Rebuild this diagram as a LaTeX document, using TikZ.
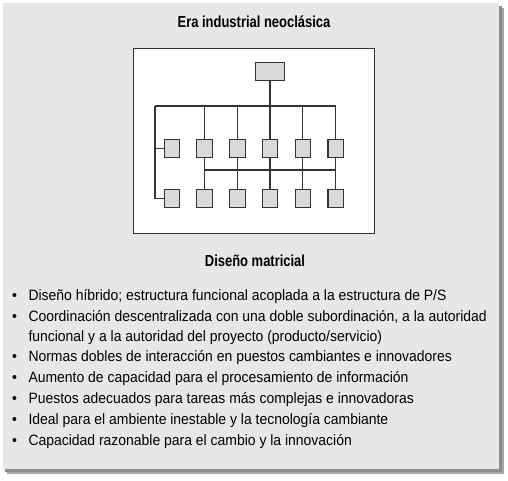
\documentclass[tikz,border=0pt]{standalone}
\usepackage{fontspec}
\setmainfont{Liberation Sans}[FakeStretch=0.93]
\newfontfamily\headfont{Liberation Sans}[FakeStretch=0.81]
\usepackage{tikz}

\definecolor{panelgray}{HTML}{E7E7E7}
\definecolor{boxgray}{HTML}{D9D9D9}
\definecolor{linegray}{HTML}{333333}

\begin{document}
\begin{tikzpicture}[x=1pt,y=-1pt,
  every node/.style={inner sep=0pt, outer sep=0pt},
  unit/.style={draw=linegray, fill=boxgray, line width=1.1pt, minimum width=15.5pt, minimum height=18pt},
  link/.style={draw=linegray, line width=1.1pt},
  heading/.style={anchor=base, font=\headfont\fontsize{16}{18}\selectfont\bfseries},
  itemtext/.style={anchor=base west, font=\fontsize{15}{17}\selectfont},
  dot/.style={anchor=base, font=\fontsize{15}{17}\selectfont}]
\useasboundingbox (0,0) rectangle (508,480);

% panel and its shadow
\fill[black!35] (7,8) rectangle (504,474);
\fill[black!45] (5,6) rectangle (502,472);
\fill[panelgray] (3,3) rectangle (499,469);

\node[heading] (title) at (254,27.5) {Era industrial neoclásica};

% organigrama
\draw[draw=linegray, fill=white, line width=1pt] (133.3,48.3) rectangle (374.3,233.3);

\node[unit, minimum width=29pt] (top) at (270,71.5) {};

\node[unit] (f1) at (171.8,148.7) {};
\node[unit] (f2) at (204.5,148.7) {};
\node[unit] (f3) at (237.3,148.7) {};
\node[unit] (f4) at (270,148.7) {};
\node[unit] (f5) at (302.8,148.7) {};
\node[unit] (f6) at (335.7,148.7) {};

\node[unit] (p1) at (171.8,198.2) {};
\node[unit] (p2) at (204.5,198.2) {};
\node[unit] (p3) at (237.3,198.2) {};
\node[unit] (p4) at (270,198.2) {};
\node[unit] (p5) at (302.8,198.2) {};
\node[unit] (p6) at (335.7,198.2) {};

\coordinate (lt) at (155,106);
\coordinate (mb) at (0,170);

\draw[link] (lt) -- (lt -| f6);
\draw[link] (top) -- (f4);
\draw[link] (lt) |- (p1.west);
\draw[link] (lt |- f1) -- (f1.west);
\draw[link] (lt -| f2) -- (f2.north);
\draw[link] (lt -| f3) -- (f3.north);
\draw[link] (lt -| f5) -- (f5.north);
\draw[link] (lt -| f6) -- (f6.north);
\draw[link] (mb -| f2) -- (mb -| f6);
\draw[link] (f2) -- (p2);
\draw[link] (f3) -- (p3);
\draw[link] (f4) -- (p4);
\draw[link] (f5) -- (p5);
\draw[link] (f6) -- (p6);

\node[heading] (sub) at (255,266) {Diseño matricial};

% lista
\node[dot] (d1) at (14.5,300) {\textbullet};
\node[itemtext] (l1) at (28.5,300) {Diseño híbrido; estructura funcional acoplada a la estructura de P/S};
\node[dot] (d2) at (14.5,321) {\textbullet};
\node[itemtext] (l2) at (28.5,321) {Coordinación descentralizada con una doble subordinación, a la autoridad};
\node[itemtext] (l2b) at (28.5,341) {funcional y a la autoridad del proyecto (producto/servicio)};
\node[dot] (d3) at (14.5,361) {\textbullet};
\node[itemtext] (l3) at (28.5,361) {Normas dobles de interacción en puestos cambiantes e innovadores};
\node[dot] (d4) at (14.5,382) {\textbullet};
\node[itemtext] (l4) at (28.5,382) {Aumento de capacidad para el procesamiento de información};
\node[dot] (d5) at (14.5,403) {\textbullet};
\node[itemtext] (l5) at (28.5,403) {Puestos adecuados para tareas más complejas e innovadoras};
\node[dot] (d6) at (14.5,424.5) {\textbullet};
\node[itemtext] (l6) at (28.5,424.5) {Ideal para el ambiente inestable y la tecnología cambiante};
\node[dot] (d7) at (14.5,445) {\textbullet};
\node[itemtext] (l7) at (28.5,445) {Capacidad razonable para el cambio y la innovación};
\end{tikzpicture}
\end{document}
